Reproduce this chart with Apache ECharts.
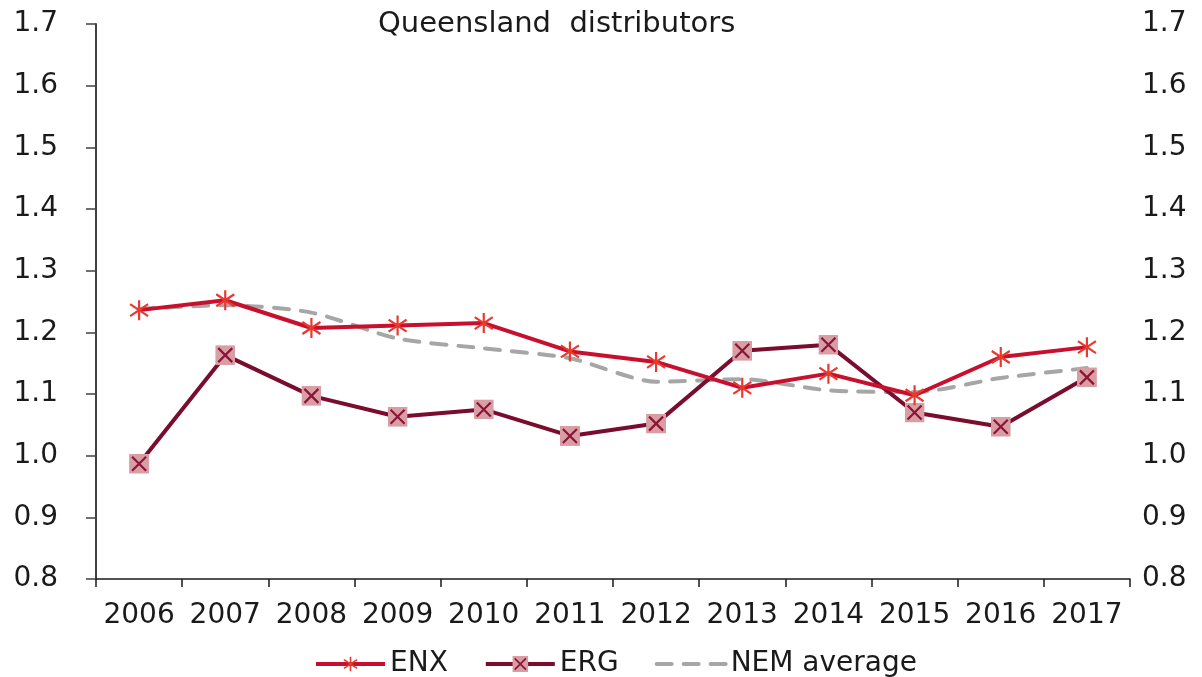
<!DOCTYPE html>
<html>
<head>
<meta charset="utf-8">
<title>Queensland distributors</title>
<script src="https://cdn.jsdelivr.net/npm/echarts@6/dist/echarts.min.js"></script>
<style>
	html, body { margin: 0; padding: 0; background: #ffffff; }
	#qld-chart { width: 1202px; height: 677px; }
</style>
</head>
<body>
<div id="qld-chart"></div>
<script>
	// values
	const years = ['2006', '2007', '2008', '2009', '2010', '2011', '2012', '2013', '2014', '2015', '2016', '2017'];
	const enx = [1.236, 1.252, 1.207, 1.211, 1.215, 1.169, 1.152, 1.110, 1.133, 1.098, 1.160, 1.176];
	const erg = [0.987, 1.163, 1.097, 1.063, 1.075, 1.032, 1.052, 1.170, 1.180, 1.070, 1.047, 1.127];
	const nemAverage = [1.238, 1.244, 1.232, 1.190, 1.174, 1.158, 1.120, 1.124, 1.106, 1.103, 1.126, 1.142];

	const fontFamily = '"DejaVu Sans", Verdana, sans-serif';

	function svgSymbol(svg) {
		return 'image://data:image/svg+xml;charset=utf-8,' + encodeURIComponent(svg);
	}

	const asteriskSymbol = svgSymbol(
		"<svg xmlns='http://www.w3.org/2000/svg' width='22' height='22' viewBox='0 0 22 22'>" +
		"<path d='M11 1V21M2 5L20 17M20 5L2 17' stroke='#e8392f' stroke-width='2.2' fill='none'/></svg>"
	);
	const crossBoxSymbol = svgSymbol(
		"<svg xmlns='http://www.w3.org/2000/svg' width='20' height='20' viewBox='0 0 20 20'>" +
		"<rect x='0' y='0' width='20' height='20' fill='#d99ea4'/>" +
		"<path d='M3 3L17 17M17 3L3 17' stroke='#8b1538' stroke-width='2.2' fill='none'/></svg>"
	);

	let chart = echarts.init(document.getElementById('qld-chart'));
	const option = {
		animation: false,
		backgroundColor: '#ffffff',
		textStyle: { fontFamily: fontFamily },
		title: {
			text: 'Queensland  distributors',
			left: 373,
			top: 5,
			textStyle: {
				fontFamily: fontFamily,
				fontSize: 29,
				fontWeight: 'normal',
				color: '#1a1a1a'
			}
		},
		legend: {
			left: 309,
			top: 645,
			itemWidth: 69,
			itemHeight: 20,
			itemGap: 36,
			lineStyle: { width: 4 },
			textStyle: { fontFamily: fontFamily, fontSize: 28, color: '#1a1a1a' },
			data: [
				{ name: 'ENX' },
				{ name: 'ERG' },
				{ name: 'NEM average', itemStyle: { opacity: 0 } }
			]
		},
		grid: {
			left: 96,
			right: 72,
			top: 24,
			bottom: 98,
			containLabel: false
		},
		xAxis: {
			type: 'category',
			data: years,
			boundaryGap: true,
			axisLine: { lineStyle: { color: '#1a1a1a', width: 1.5 } },
			axisTick: { show: true, length: 8, inside: false, lineStyle: { color: '#1a1a1a', width: 1.5 } },
			axisLabel: { fontFamily: fontFamily, fontSize: 28, color: '#1a1a1a', margin: 23, interval: 0 },
			splitLine: { show: false }
		},
		yAxis: [{
				type: 'value',
				min: 0.8,
				max: 1.7,
				interval: 0.1,
				position: 'left',
				axisLine: { show: true, lineStyle: { color: '#404040', width: 2 } },
				axisTick: { show: true, length: 10, lineStyle: { color: '#404040', width: 1.5 } },
				axisLabel: {
					fontFamily: fontFamily,
					fontSize: 28,
					color: '#1a1a1a',
					margin: 38,
					formatter: (v) => v.toFixed(1)
				},
				splitLine: { show: false }
			},
			{
				type: 'value',
				min: 0.8,
				max: 1.7,
				interval: 0.1,
				position: 'right',
				axisLine: { show: false },
				axisTick: { show: false },
				axisLabel: {
					fontFamily: fontFamily,
					fontSize: 28,
					color: '#1a1a1a',
					margin: 12,
					formatter: (v) => v.toFixed(1)
				},
				splitLine: { show: false }
			}
		],
		series: [{
				name: 'NEM average',
				type: 'line',
				data: nemAverage,
				smooth: 0.25,
				symbol: 'none',
				z: 1,
				color: '#a6a6a6',
				lineStyle: { color: '#a6a6a6', width: 4, type: [15, 12], cap: 'round' }
			},
			{
				name: 'ENX',
				type: 'line',
				data: enx,
				symbol: asteriskSymbol,
				symbolSize: 22,
				showAllSymbol: true,
				z: 3,
				color: '#c8102e',
				lineStyle: { color: '#c8102e', width: 4 }
			},
			{
				name: 'ERG',
				type: 'line',
				data: erg,
				symbol: crossBoxSymbol,
				symbolSize: 20,
				showAllSymbol: true,
				z: 2,
				color: '#7a0c2e',
				lineStyle: { color: '#7a0c2e', width: 4 }
			}
		]
	};
	chart.setOption(option);
</script>
</body>
</html>
